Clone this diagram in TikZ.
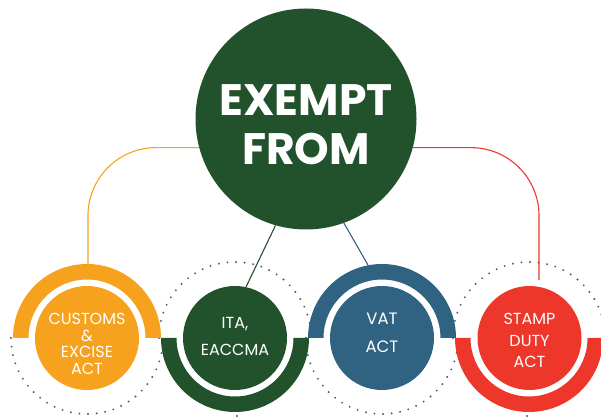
\documentclass[tikz,border=0pt]{standalone}
\usepackage{fontspec}
\newfontfamily\pop{Poppins}
\definecolor{cOrange}{HTML}{F7A21E}
\definecolor{cGreen}{HTML}{22522B}
\definecolor{cBlue}{HTML}{2F6381}
\definecolor{cRed}{HTML}{EE372B}
\definecolor{cDot}{HTML}{4F5563}
\tikzset{
  inner/.style={circle,minimum size=104pt,inner sep=0pt},
  lbl/.style={text=white,align=center,inner sep=0pt,font=\pop\fontsize{16}{16.5}\selectfont},
  dotline/.style={draw=cDot,line width=2.1pt,line cap=round,dash pattern=on 0pt off 8.6pt},
  link/.style={line width=1.1pt}
}
\begin{document}
\begin{tikzpicture}[x=1pt,y=1pt]
\useasboundingbox (0,0) rectangle (601,417);
% dotted semicircles
\draw[dotline] (87,79) ++(180:76) arc[start angle=180,end angle=360,radius=76];
\draw[dotline] (235,79) ++(180:76) arc[start angle=180,end angle=0,radius=76];
\draw[dotline] (382,79) ++(180:76) arc[start angle=180,end angle=360,radius=76];
\draw[dotline] (529,79) ++(180:76) arc[start angle=180,end angle=0,radius=76];
\fill[cDot] (237,1) circle (1.05pt);
\fill[cDot] (527,1) circle (1.05pt);
% rings
\fill[cOrange] (87,79) ++(180:74) arc[start angle=180,end angle=0,radius=74] -- ++(-15.5,0) arc[start angle=0,end angle=180,radius=58.5] -- cycle;
\fill[cGreen] (235,79) ++(180:74) arc[start angle=180,end angle=360,radius=74] -- ++(-15.5,0) arc[start angle=0,end angle=-180,radius=58.5] -- cycle;
\fill[cBlue] (382,79) ++(180:74) arc[start angle=180,end angle=0,radius=74] -- ++(-15.5,0) arc[start angle=0,end angle=180,radius=58.5] -- cycle;
\fill[cRed] (529,79) ++(180:74) arc[start angle=180,end angle=360,radius=74] -- ++(-15.5,0) arc[start angle=0,end angle=-180,radius=58.5] -- cycle;
% inner circles
\node[inner,fill=cOrange] (customs) at (87,79) {};
\node[inner,fill=cGreen] (ita) at (235,79) {};
\node[inner,fill=cBlue] (vat) at (382,79) {};
\node[inner,fill=cRed] (stamp) at (529.5,79) {};
% labels
\node[lbl] (customsT) at (87,73) {CUSTOMS\\\&\\EXCISE\\ACT};
\node[lbl,font=\pop\fontsize{16}{27.5}\selectfont] (itaT) at (235,80.5) {ITA,\\EACCMA};
\node[lbl,font=\pop\fontsize{16.5}{27.5}\selectfont] (vatT) at (382,84) {VAT\\ACT};
\node[lbl,font=\pop\fontsize{16}{21.5}\selectfont] (stampT) at (529.5,76.5) {STAMP\\DUTY\\ACT};
% big circle
\node[circle,fill=cGreen,minimum size=221pt,inner sep=0pt] (big) at (306,298) {};
\node[text=white,align=center,inner sep=0pt,font=\pop\bfseries\fontsize{44}{49}\selectfont] (bigT) at (306,292) {EXEMPT\\FROM};
% coordinates
\coordinate (oTop) at (88,153);
\coordinate (rTop) at (539,137);
\coordinate (gEnd) at (246,130);
\coordinate (bEnd) at (368,152);
% connectors
\draw[link,cOrange,rounded corners=68pt] (big.195) -| (oTop);
\draw[link,cRed,rounded corners=68pt] (big.345) -| (rTop);
\draw[link,cGreen] (big.254) -- (gEnd);
\draw[link,cBlue] (big.290) -- (bEnd);
\end{tikzpicture}
\end{document}
